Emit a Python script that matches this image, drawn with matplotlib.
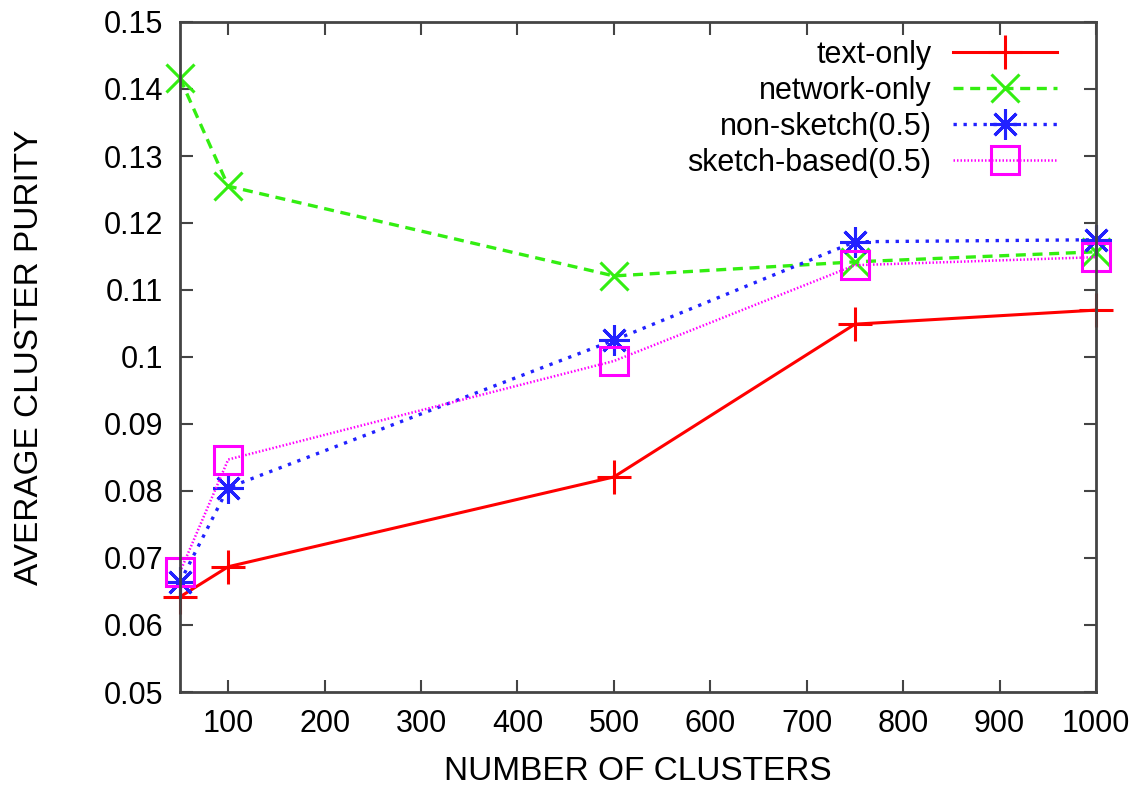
import numpy as np
import matplotlib.pyplot as plt

plt.rcParams['font.family'] = ['Liberation Sans', 'DejaVu Sans']

# data
clusters = [50, 100, 500, 750, 1000]
text_only = [0.0642, 0.0687, 0.0821, 0.1049, 0.1070]
network_only = [0.1416, 0.1255, 0.1121, 0.1142, 0.1157]
non_sketch = [0.0664, 0.0805, 0.1025, 0.1172, 0.1175]
sketch_based = [0.0679, 0.0847, 0.0994, 0.1137, 0.1149]

fig = plt.figure(figsize=(11.38, 7.88), dpi=100)
ax = fig.add_axes([180/1138, 1 - 692/788, (1096-180)/1138, (692-22)/788])

ax.plot(clusters, text_only, color='#ff0000', lw=2.2, ls='-', marker='+',
        ms=24, mew=2.2, label='text-only', clip_on=False)
ax.plot(clusters, network_only, color='#33ee11', lw=2.4, ls=(0, (3, 2)),
        marker='x', ms=20, mew=2.2, label='network-only', clip_on=False)
ax.plot(clusters, non_sketch, color='#2222ff', lw=2.4, ls=(0, (1, 2)),
        marker=(8, 2, 0), ms=22, mew=2.2, label='non-sketch(0.5)', clip_on=False)
ax.plot(clusters, sketch_based, color='#ff00ff', lw=1.8, ls=(0, (0.6, 0.8)),
        marker='s', ms=20, mew=2.2, mfc='none', label='sketch-based(0.5)',
        clip_on=False)

ax.set_xlim(50, 1000)
ax.set_ylim(0.05, 0.15)
ax.set_xticks(np.arange(100, 1001, 100))
ax.set_yticks(np.arange(0.05, 0.151, 0.01))
ax.set_yticklabels(['0.05', '0.06', '0.07', '0.08', '0.09', '0.1',
                    '0.11', '0.12', '0.13', '0.14', '0.15'])
ax.tick_params(direction='in', length=9, width=1.5, labelsize=22,
               top=True, right=True, pad=12, color='#444444')
for s in ax.spines.values():
    s.set_linewidth(2)
    s.set_color('#444444')

ax.set_xlabel('NUMBER OF CLUSTERS', fontsize=24, va='center')
ax.set_ylabel('AVERAGE CLUSTER PURITY', fontsize=24, va='center')
ax.xaxis.set_label_coords(0.5, (692 - 771) / 670)
ax.yaxis.set_label_coords((30 - 180) / 916, 0.5)

ax.legend(loc='upper right', frameon=False, markerfirst=False, fontsize=22,
          handlelength=3.4, handletextpad=0.7, labelspacing=0.2,
          borderaxespad=0.0, bbox_to_anchor=((1069 - 180) / 916, 0.992))

fig.savefig('out.png', dpi=100)
